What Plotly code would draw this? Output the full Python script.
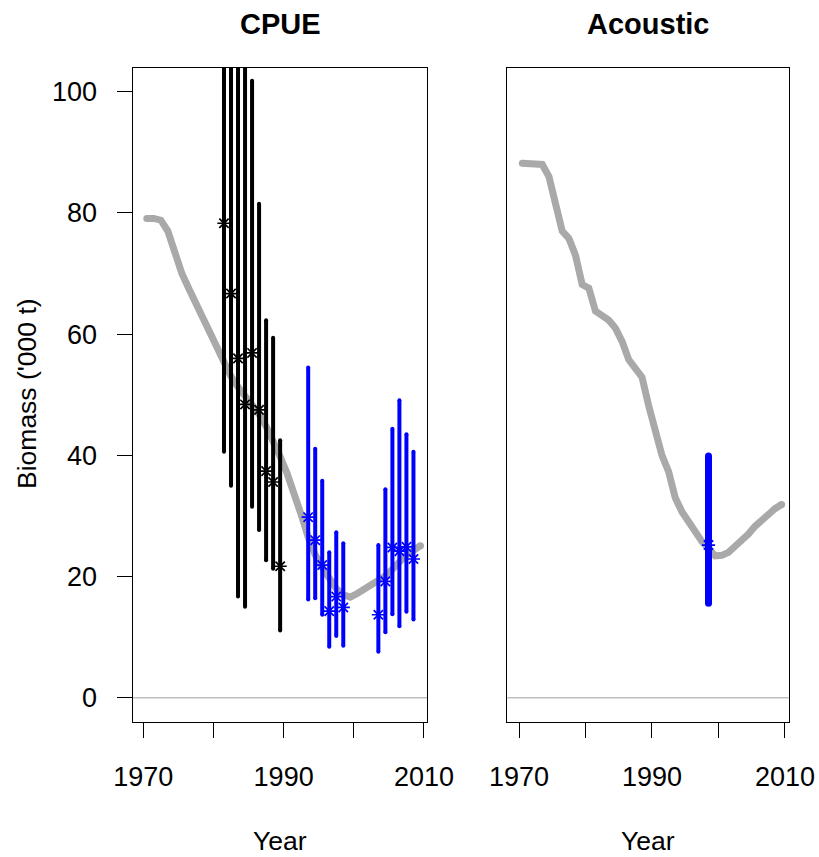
import plotly.graph_objects as go

# ---------------- data ----------------
model_years = [y + 0.5 for y in range(1970, 2010)]
cpue_model = [79.1, 79.1, 78.8, 77.0, 73.5, 70.0, 67.5, 65.0, 62.5, 60.0,
              57.8, 55.2, 53.0, 51.3, 49.8, 48.3, 46.8, 44.8, 42.5, 39.8,
              37.0, 34.0, 30.2, 26.5, 23.6, 21.5, 19.5, 18.0, 17.0, 16.6,
              17.2, 17.9, 18.6, 19.2, 20.1, 21.2, 22.5, 23.6, 24.3, 25.1]
acoustic_model = [88.2, 88.2, 88.2, 88.0, 86.0, 82.0, 77.0, 75.8, 73.0, 68.2,
                  67.6, 63.8, 63.0, 62.3, 61.0, 58.8, 55.8, 54.3, 52.9, 48.2,
                  43.5, 40.0, 37.3, 33.0, 30.7, 29.0, 27.3, 25.8, 24.6, 23.4,
                  23.5, 24.0, 25.0, 25.9, 27.0, 28.3, 29.4, 30.2, 31.2, 31.9]

cpue1_years = [1981.5, 1982.5, 1983.5, 1984.5, 1985.5, 1986.5, 1987.5, 1988.5, 1989.5]
cpue1_obs = [78.3, 66.7, 56.0, 48.4, 56.9, 47.5, 37.4, 35.6, 21.7]
cpue1_lo = [40.6, 35.0, 16.7, 15.0, 31.5, 27.7, 22.7, 21.3, 11.1]
cpue1_hi = [151.0, 127.0, 188.0, 156.0, 101.8, 81.5, 62.3, 59.4, 42.5]

cpue2_years = [1993.5, 1994.5, 1995.5, 1996.5, 1997.5, 1998.5,
               2003.5, 2004.5, 2005.5, 2006.5, 2007.5, 2008.5]
cpue2_obs = [29.8, 26.0, 21.9, 14.3, 16.7, 14.9, 13.7, 19.2, 24.8, 24.2, 24.9, 22.9]
cpue2_lo = [16.2, 16.4, 13.7, 8.4, 10.2, 8.6, 7.6, 10.8, 13.8, 11.8, 14.2, 12.9]
cpue2_hi = [54.5, 41.1, 35.8, 24.0, 27.3, 25.5, 25.2, 34.4, 44.4, 49.1, 43.5, 40.6]

acoustic_years = [1998.5]
acoustic_obs = [25.2]
acoustic_lo = [15.6]
acoustic_hi = [39.9]

x_tickvals = [1970, 1980, 1990, 2000, 2010]
x_ticktext = ["1970", "", "1990", "", "2010"]
y_tickvals = [0, 20, 40, 60, 80, 100]

FONT = "Liberation Sans, Arial, sans-serif"
GREY = "#A9A9A9"
BLUE = "#0000FF"


def segs(xs, lo, hi):
    X, Y = [], []
    for x, a, b in zip(xs, lo, hi):
        X += [x, x, None]
        Y += [a, b, None]
    return X, Y


def star(color):
    return dict(symbol="asterisk-open", size=11, color=color,
                line=dict(color=color, width=1.7))


fig = go.Figure()


def add_bars(xs, lo, hi, color, width, xa, ya):
    X, Y = segs(xs, lo, hi)
    fig.add_trace(go.Scatter(x=X, y=Y, mode="lines", line=dict(color=color, width=width),
                             xaxis=xa, yaxis=ya, showlegend=False, hoverinfo="skip"))
    # round end caps
    fig.add_trace(go.Scatter(x=list(xs) + list(xs), y=list(lo) + list(hi), mode="markers",
                             marker=dict(symbol="circle", size=width, color=color,
                                         line=dict(width=0)),
                             xaxis=xa, yaxis=ya, showlegend=False, hoverinfo="skip"))


def add_model(xs, ys, xa, ya):
    fig.add_trace(go.Scatter(x=xs, y=ys, mode="lines",
                             line=dict(color=GREY, width=7), xaxis=xa, yaxis=ya,
                             showlegend=False, hoverinfo="skip"))
    fig.add_trace(go.Scatter(x=[xs[0], xs[-1]], y=[ys[0], ys[-1]], mode="markers",
                             marker=dict(symbol="circle", size=7, color=GREY,
                                         line=dict(width=0)),
                             xaxis=xa, yaxis=ya, showlegend=False, hoverinfo="skip"))


# CPUE panel
add_model(model_years, cpue_model, "x", "y")
add_bars(cpue1_years, cpue1_lo, cpue1_hi, "black", 4, "x", "y")
add_bars(cpue2_years, cpue2_lo, cpue2_hi, BLUE, 4, "x", "y")
fig.add_trace(go.Scatter(x=cpue1_years, y=cpue1_obs, mode="markers",
                         marker=star("black"), xaxis="x", yaxis="y",
                         showlegend=False))
fig.add_trace(go.Scatter(x=cpue2_years, y=cpue2_obs, mode="markers",
                         marker=star(BLUE), xaxis="x", yaxis="y",
                         showlegend=False))

# Acoustic panel
add_model(model_years, acoustic_model, "x2", "y2")
add_bars(acoustic_years, acoustic_lo, acoustic_hi, BLUE, 7, "x2", "y2")
fig.add_trace(go.Scatter(x=acoustic_years, y=acoustic_obs, mode="markers",
                         marker=star(BLUE), xaxis="x2", yaxis="y2",
                         showlegend=False))

# zero lines
for xr, yr in (("x domain", "y"), ("x2 domain", "y2")):
    fig.add_shape(type="line", xref=xr, yref=yr, x0=0, x1=1, y0=0, y1=0,
                  line=dict(color="#BEBEBE", width=1.5), layer="below")

TICKFONT = dict(family=FONT, size=27, color="black")


def axis(**kw):
    base = dict(showgrid=False, zeroline=False, showline=True, mirror=True,
                linecolor="black", linewidth=1.3, ticks="outside", ticklen=15,
                tickwidth=1.3, tickcolor="black", automargin=False,
                tickfont=TICKFONT)
    base.update(kw)
    return base


ydom = [1 - 722 / 857, 1 - 67.5 / 857]
fig.update_layout(
    width=819, height=857,
    margin=dict(l=0, r=0, t=0, b=0),
    paper_bgcolor="white", plot_bgcolor="white",
    xaxis=axis(domain=[132.7 / 819, 427.2 / 819], range=[1968.49, 2010.46],
               tickvals=x_tickvals, ticktext=x_ticktext, anchor="y",
               ticklabelstandoff=15),
    yaxis=axis(domain=ydom, range=[-4, 104], tickvals=y_tickvals, anchor="x",
               ticklabelstandoff=14),
    xaxis2=axis(domain=[507.3 / 819, 788.7 / 819], range=[1968.24, 2010.56],
                tickvals=x_tickvals, ticktext=x_ticktext, anchor="y2",
                ticklabelstandoff=15),
    yaxis2=axis(domain=ydom, range=[-4, 104], tickvals=y_tickvals, anchor="x2",
                showticklabels=False, ticks=""),
)

ann = []
for cx, t in ((280, "CPUE"), (648, "Acoustic")):
    ann.append(dict(text="<b>" + t + "</b>", x=cx / 819, y=1 - 23.5 / 857,
                    xref="paper", yref="paper", showarrow=False,
                    xanchor="center", yanchor="middle",
                    font=dict(family=FONT, size=29, color="black")))
    ann.append(dict(text="Year", x=cx / 819, y=1 - 841 / 857, xref="paper",
                    yref="paper", showarrow=False, xanchor="center",
                    yanchor="middle", font=dict(family=FONT, size=26.5, color="black")))
ann.append(dict(text="Biomass ('000 t)", x=27 / 819, y=1 - 394 / 857, xref="paper",
                yref="paper", showarrow=False, xanchor="center", yanchor="middle",
                textangle=-90, font=dict(family=FONT, size=26.5, color="black")))
fig.update_layout(annotations=ann)

fig.write_html("out.html")
